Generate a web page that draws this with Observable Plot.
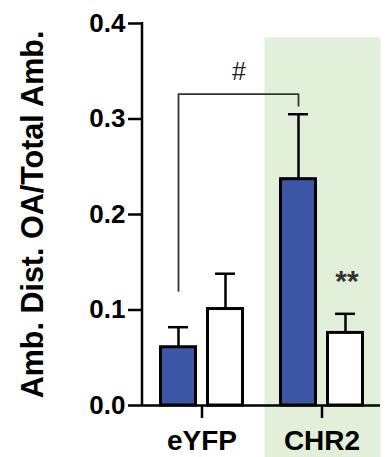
<!DOCTYPE html>
<html><head><meta charset="utf-8">
<script src="https://cdn.jsdelivr.net/npm/d3@7"></script>
<script src="https://cdn.jsdelivr.net/npm/@observablehq/plot@0.6"></script>
<style>
html,body{margin:0;padding:0;background:#fff;}
#chart svg{display:block}
</style></head><body><div id="chart"></div>
<script>
const groups = ["eYFP", "CHR2"];
const filledMean = [0.061, 0.237];
const filledUpper = [0.082, 0.305];
const openMean = [0.101, 0.076];
const openUpper = [0.138, 0.096];
const yTicks = [0, 0.1, 0.2, 0.3, 0.4];
const yLabel = "Amb. Dist. OA/Total Amb.";
const highlightGroup = ["CHR2"];
const bracketGroups = ["eYFP", "eYFP", "CHR2", "CHR2"];
const bracketValues = [0.12, 0.326, 0.326, 0.314];
const hashLabel = ["#"];
const starLabel = ["**"];

const data = groups.map((g, i) => ({group: g, filled: filledMean[i], filledUp: filledUpper[i], open: openMean[i], openUp: openUpper[i]}));
const bracket = bracketGroups.map((g, i) => ({group: g, y: bracketValues[i]}));

const yAxisLine = (index, scales, values, dims) => {
  const x = dims.marginLeft;
  return d3.create("svg:line")
    .attr("x1", x).attr("x2", x)
    .attr("y1", scales.y(0.4) - 1).attr("y2", scales.y(0))
    .attr("stroke", "#000").attr("stroke-width", 2.5).node();
};

const chart = Plot.plot({
  width: 388, height: 457,
  marginTop: 23, marginBottom: 52, marginLeft: 142, marginRight: 8,
  style: {fontFamily: "'Liberation Sans', Arial, Helvetica, sans-serif", fontWeight: "bold", color: "#000", background: "#fff", overflow: "visible"},
  x: {domain: groups, paddingInner: 0.2917, paddingOuter: 0.1375, axis: null},
  y: {domain: [0, 0.4], axis: null},
  marks: [
    Plot.barY(highlightGroup, {x: d => d, y1: 0.385, y2: -0.0545, insetLeft: -14.5, insetRight: -16.5, fill: "#e3f0d9"}),
    Plot.barY(data, {x: "group", y: "filled", fill: "#3a56a5", stroke: "#000", strokeWidth: 3, insetLeft: 1.5, insetRight: 48.5}),
    Plot.barY(data, {x: "group", y: "open", fill: "#fff", stroke: "#000", strokeWidth: 3, insetLeft: 48.5, insetRight: 1.5}),
    Plot.ruleX(data, {x: "group", y1: "filled", y2: "filledUp", dx: -23.5, stroke: "#000", strokeWidth: 2.5}),
    Plot.tickY(data, {x: "group", y: "filledUp", insetLeft: 9, insetRight: 56, stroke: "#000", strokeWidth: 2.5}),
    Plot.ruleX(data, {x: "group", y1: "open", y2: "openUp", dx: 23.5, stroke: "#000", strokeWidth: 2.5}),
    Plot.tickY(data, {x: "group", y: "openUp", insetLeft: 56, insetRight: 9, stroke: "#000", strokeWidth: 2.5}),
    Plot.ruleY([0], {stroke: "#000", strokeWidth: 2.5}),
    yAxisLine,
    Plot.axisY({ticks: yTicks, tickFormat: d3.format(".1f"), tickSize: 14, tickPadding: 3, fontSize: 26, strokeWidth: 2.5, label: null}),
    Plot.axisX({tickSize: 13, tickPadding: 12, fontSize: 28, strokeWidth: 2.5, label: null}),
    Plot.line(bracket, {x: "group", y: "y", dx: -23.5, stroke: "#333", strokeWidth: 1.8}),
    Plot.text(hashLabel, {x: () => "eYFP", y: () => 0.349, text: d => d, dx: 37, fontSize: 25, fontWeight: "normal", fill: "#222", lineAnchor: "middle"}),
    Plot.text(starLabel, {x: () => "CHR2", y: () => 0.130, text: d => d, dx: 25, fontSize: 30, fill: "#333", lineAnchor: "middle"}),
    Plot.text([yLabel], {frameAnchor: "left", rotate: -90, dx: -109, text: d => d, textAnchor: "middle", fontSize: 30.5, lineAnchor: "middle", fill: "#000"})
  ]
});
document.getElementById("chart").appendChild(chart);
</script>
</body></html>
